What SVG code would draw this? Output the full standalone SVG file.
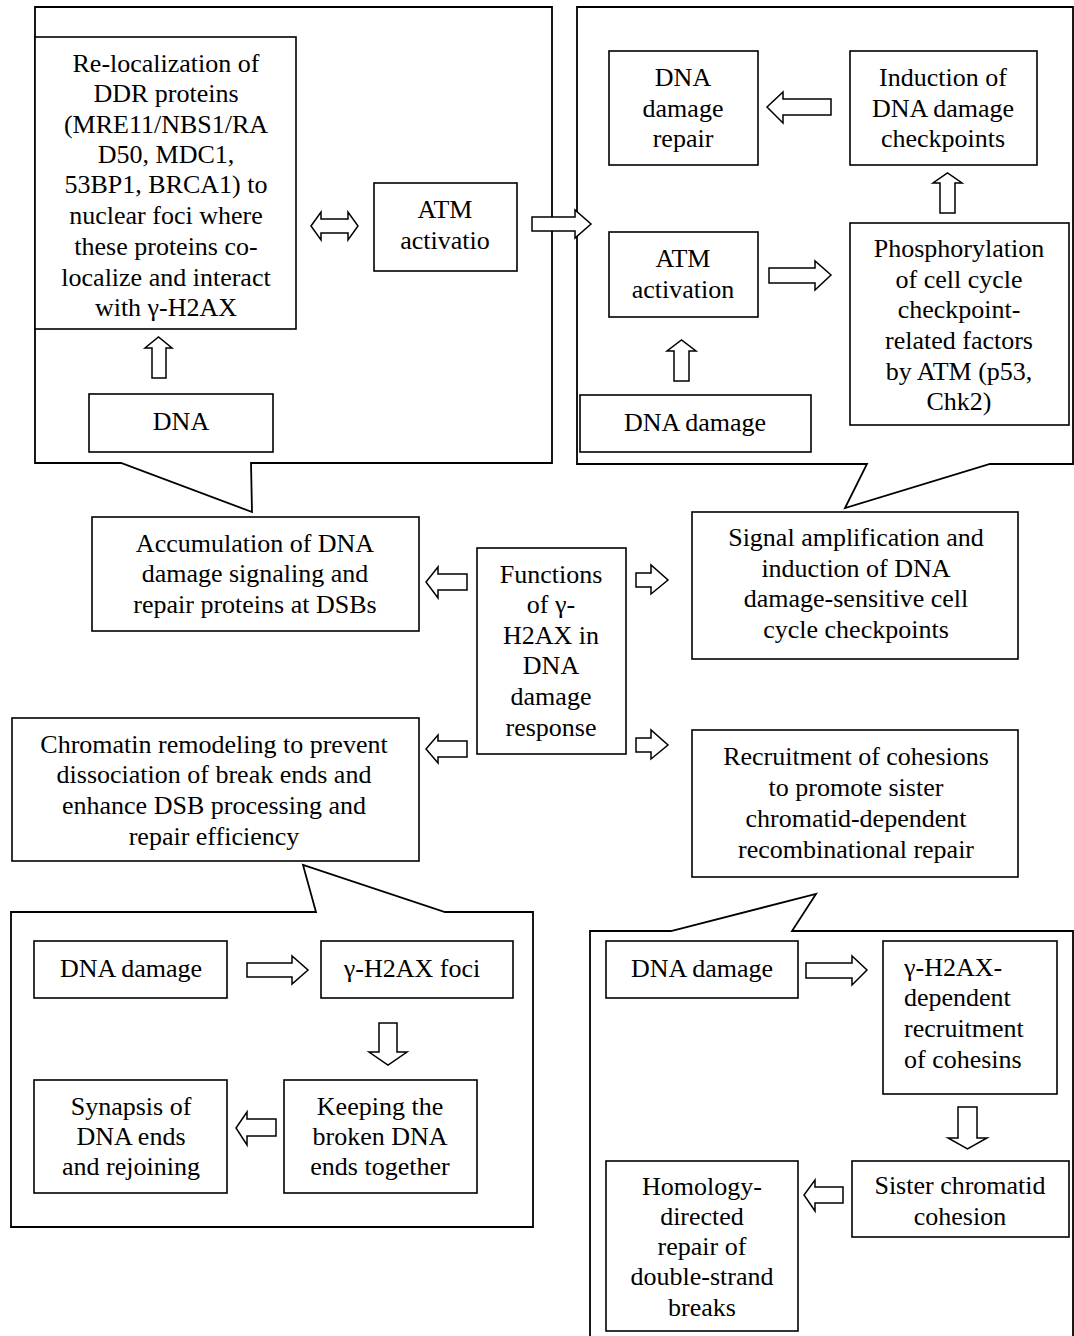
<svg xmlns="http://www.w3.org/2000/svg" width="1074" height="1336" viewBox="0 0 1074 1336">
<style>
.c{fill:#fff;stroke:#000;stroke-width:1.8}
.b{fill:#fff;stroke:#000;stroke-width:1.6}
.a{fill:#fff;stroke:#000;stroke-width:1.5;stroke-linejoin:miter}
text{font-family:"Liberation Serif","Times New Roman",serif;font-size:26px;fill:#000;text-anchor:middle}
.l{text-anchor:start}
</style>
<rect x="0" y="0" width="1074" height="1336" fill="#fff"/>
<g id="callouts">
<path id="callout-tl" class="c" d="M35,7 H552 V463 H251 L252,512 L121,463 H35 Z"/>
<path id="callout-tr" class="c" d="M577,7 H1073 V464 H990 L845,508 L867,464 H577 Z"/>
<path id="callout-bl" class="c" d="M11,912 H316 L303,865 L445,912 H533 V1227 H11 Z"/>
<path id="callout-br" class="c" d="M590,1340 V931 H671 L816,894 L792,931 H1073 V1340"/>
</g>
<g id="n-reloc"><rect class="b" x="35" y="37" width="261" height="292"/>
<text x="166"><tspan x="166" y="72">Re-localization of</tspan><tspan x="166" y="102">DDR proteins</tspan><tspan x="166" y="133">(MRE11/NBS1/RA</tspan><tspan x="166" y="163">D50, MDC1,</tspan><tspan x="166" y="193">53BP1, BRCA1) to</tspan><tspan x="166" y="224">nuclear foci where</tspan><tspan x="166" y="255">these proteins co-</tspan><tspan x="166" y="286">localize and interact</tspan><tspan x="166" y="316">with γ-H2AX</tspan></text></g>
<g id="n-atm1"><rect class="b" x="374" y="183" width="143" height="88"/>
<text><tspan x="445" y="218">ATM</tspan><tspan x="445" y="249">activatio</tspan></text></g>
<g id="n-dna"><rect class="b" x="89" y="394" width="184" height="58"/>
<text x="181" y="430">DNA</text></g>
<g id="n-repair"><rect class="b" x="609" y="51" width="149" height="114"/>
<text><tspan x="683" y="86">DNA</tspan><tspan x="683" y="117">damage</tspan><tspan x="683" y="147">repair</tspan></text></g>
<g id="n-induction"><rect class="b" x="850" y="51" width="187" height="114"/>
<text><tspan x="943" y="86">Induction of</tspan><tspan x="943" y="117">DNA damage</tspan><tspan x="943" y="147">checkpoints</tspan></text></g>
<g id="n-atm2"><rect class="b" x="609" y="232" width="149" height="85"/>
<text><tspan x="683" y="267">ATM</tspan><tspan x="683" y="298">activation</tspan></text></g>
<g id="n-phos"><rect class="b" x="850" y="223" width="219" height="202"/>
<text><tspan x="959" y="257">Phosphorylation</tspan><tspan x="959" y="288">of cell cycle</tspan><tspan x="959" y="318">checkpoint-</tspan><tspan x="959" y="349">related factors</tspan><tspan x="959" y="380">by ATM (p53,</tspan><tspan x="959" y="410">Chk2)</tspan></text></g>
<g id="n-dnadmg1"><rect class="b" x="580" y="395" width="231" height="57"/>
<text x="695" y="431">DNA damage</text></g>
<g id="n-accum"><rect class="b" x="92" y="517" width="327" height="114"/>
<text><tspan x="255" y="552">Accumulation of DNA</tspan><tspan x="255" y="582">damage signaling and</tspan><tspan x="255" y="613">repair proteins at DSBs</tspan></text></g>
<g id="n-functions"><rect class="b" x="477" y="548" width="149" height="206"/>
<text><tspan x="551" y="583">Functions</tspan><tspan x="551" y="613">of γ-</tspan><tspan x="551" y="644">H2AX in</tspan><tspan x="551" y="674">DNA</tspan><tspan x="551" y="705">damage</tspan><tspan x="551" y="736">response</tspan></text></g>
<g id="n-signal"><rect class="b" x="692" y="512" width="326" height="147"/>
<text><tspan x="856" y="546">Signal amplification and</tspan><tspan x="856" y="577">induction of DNA</tspan><tspan x="856" y="607">damage-sensitive cell</tspan><tspan x="856" y="638">cycle checkpoints</tspan></text></g>
<g id="n-chromatin"><rect class="b" x="12" y="718" width="407" height="143"/>
<text><tspan x="214" y="753">Chromatin remodeling to prevent</tspan><tspan x="214" y="783">dissociation of break ends and</tspan><tspan x="214" y="814">enhance DSB processing and</tspan><tspan x="214" y="845">repair efficiency</tspan></text></g>
<g id="n-recruit"><rect class="b" x="692" y="730" width="326" height="147"/>
<text><tspan x="856" y="765">Recruitment of cohesions</tspan><tspan x="856" y="796">to promote sister</tspan><tspan x="856" y="827">chromatid-dependent</tspan><tspan x="856" y="858">recombinational repair</tspan></text></g>
<g id="n-dnadmg2"><rect class="b" x="34" y="941" width="193" height="57"/>
<text x="131" y="977">DNA damage</text></g>
<g id="n-foci"><rect class="b" x="321" y="941" width="192" height="57"/>
<text x="412" y="977">γ-H2AX foci</text></g>
<g id="n-synapsis"><rect class="b" x="34" y="1080" width="193" height="113"/>
<text><tspan x="131" y="1115">Synapsis of</tspan><tspan x="131" y="1145">DNA ends</tspan><tspan x="131" y="1175">and rejoining</tspan></text></g>
<g id="n-keeping"><rect class="b" x="284" y="1080" width="193" height="113"/>
<text><tspan x="380" y="1115">Keeping the</tspan><tspan x="380" y="1145">broken DNA</tspan><tspan x="380" y="1175">ends together</tspan></text></g>
<g id="n-dnadmg3"><rect class="b" x="606" y="941" width="192" height="57"/>
<text x="702" y="977">DNA damage</text></g>
<g id="n-dependent"><rect class="b" x="883" y="941" width="174" height="153"/>
<text class="l"><tspan x="904" y="976">γ-H2AX-</tspan><tspan x="904" y="1006">dependent</tspan><tspan x="904" y="1037">recruitment</tspan><tspan x="904" y="1068">of cohesins</tspan></text></g>
<g id="n-sister"><rect class="b" x="852" y="1161" width="217" height="76"/>
<text><tspan x="960" y="1194">Sister chromatid</tspan><tspan x="960" y="1225">cohesion</tspan></text></g>
<g id="n-homology"><rect class="b" x="606" y="1161" width="192" height="170"/>
<text><tspan x="702" y="1195">Homology-</tspan><tspan x="702" y="1225">directed</tspan><tspan x="702" y="1255">repair of</tspan><tspan x="702" y="1285">double-strand</tspan><tspan x="702" y="1316">breaks</tspan></text></g>
<g id="connectors">
<polygon class="a" points="311,226 321,212 321,219 348,219 348,212 358,226 348,240 348,233 321,233 321,240"/>
<polygon class="a" points="152,378 152,348 145,348 158.5,337 172,348 166,348 166,378"/>
<polygon class="a" points="532,217 575,217 575,210 591,224 575,238 575,231 532,231"/>
<polygon class="a" points="831,99 783,99 783,92 767,107 783,123 783,115 831,115"/>
<polygon class="a" points="769,268 815,268 815,261 831,275 815,290 815,283 769,283"/>
<polygon class="a" points="940,213 940,183 933,183 947.5,173 962,183 955,183 955,213"/>
<polygon class="a" points="674,381 674,351 667,351 681.5,340 696,351 689,351 689,381"/>
<polygon class="a" points="467,574 438,574 438,567 426,582 438,598 438,590 467,590"/>
<polygon class="a" points="636,573 651,573 651,565 668,580 651,594 651,587 636,587"/>
<polygon class="a" points="467,741 438,741 438,735 426,749 438,763 438,757 467,757"/>
<polygon class="a" points="636,738 651,738 651,730 668,745 651,759 651,752 636,752"/>
<polygon class="a" points="247,963 292,963 292,956 308,970 292,984 292,977 247,977"/>
<polygon class="a" points="379,1023 397,1023 397,1052 407,1052 388,1065 369,1052 379,1052"/>
<polygon class="a" points="276,1119 247,1119 247,1112 236,1128 247,1145 247,1136 276,1136"/>
<polygon class="a" points="806,963 852,963 852,956 867,970 852,985 852,978 806,978"/>
<polygon class="a" points="958,1107 977,1107 977,1138 987,1138 967.5,1149 948,1138 958,1138"/>
<polygon class="a" points="843,1187 815,1187 815,1180 804,1195 815,1211 815,1203 843,1203"/>
</g>
</svg>
